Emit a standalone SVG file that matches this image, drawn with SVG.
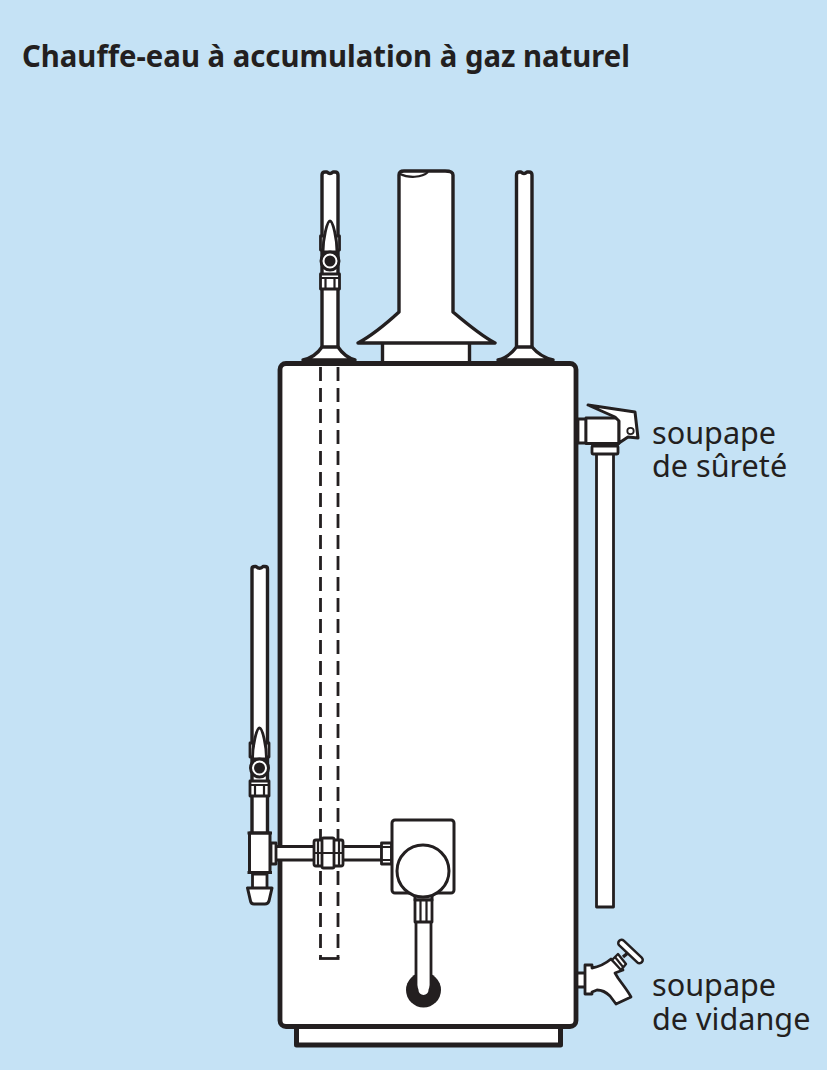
<svg xmlns="http://www.w3.org/2000/svg" width="827" height="1070" viewBox="0 0 827 1070">
<style>
.l{fill:#fff;stroke:#231f20;stroke-width:2.8;stroke-linejoin:round}
.t{fill:#fff;stroke:#231f20;stroke-width:3.400;stroke-linejoin:round}
.n{fill:none;stroke:#231f20;stroke-width:2.2}
.d{fill:none;stroke:#231f20;stroke-width:2.800;stroke-dasharray:14 7}
.k{fill:#231f20}
.lab{font-family:"Noto Sans","Liberation Sans",sans-serif;font-size:30.600px;fill:#231f20}
</style>
<defs>
<g id="bv">
<path class="l" d="M-9.500 -25V-11H-6V-25ZM9.500 -25V-11H6V-25Z"/>
<path class="l" d="M-7 -9C-7 -22 -3 -40 0 -40C3 -40 7 -22 7 -9Z"/>
<circle class="l" cx="0" cy="0" r="9" style="stroke-width:3"/>
<circle class="k" cx="0" cy="0" r="5.500"/>
<rect class="l" x="-9.500" y="13" width="19" height="15"/>
<path class="n" d="M-9.500 17H9.500M-4.500 17V28M4.500 17V28"/>
</g>
</defs>
<rect id="background" width="827" height="1070" fill="#c5e2f5"/>
<text id="title" x="22" y="67" textLength="608" lengthAdjust="spacingAndGlyphs" style="font-family:'Noto Sans','Liberation Sans',sans-serif;font-size:31px;font-weight:700;fill:#231f20">Chauffe-eau à accumulation à gaz naturel</text>

<g id="pipes-top">
<path class="t" d="M322 348V175Q322 172 325 172H327Q330 175 333 172H335Q338 172 338 175V348Z"/>
<path class="t" d="M516.500 348V175Q516.500 172 519.500 172H521Q524 175 527 172H529Q532 172 532 175V348Z"/>
<path class="t" d="M303 360C312 358 318 353 322 347H338C342 353 348 358 355 360Z"/>
<path class="t" d="M498 360C507 358 512 353 516.500 347H532C537 353 545 358 553 360Z"/>
</g>
<g id="flue">
<rect class="t" x="382.500" y="342" width="87" height="21"/>
<path class="t" d="M399 312V175Q399 171 404 171H445Q453 171 453 175V312C466 323 480 335 495 343H358C373 335 387 323 399 312Z"/>
<path class="n" d="M400 174C408 178 422 178 428 172"/>
</g>

<g id="tank">
<rect class="t" x="296.500" y="1024" width="264" height="21" style="stroke-width:5"/>
<rect class="t" x="280" y="363.500" width="296" height="663" rx="6" style="stroke-width:4.800"/>
</g>
<g id="dip-tube">
<path class="d" d="M320.500 367V958M338 367V958"/>
<path class="n" d="M319 958.500H339.500" style="stroke-width:2.800"/>
</g>

<use id="valve-top" href="#bv" x="330" y="261"/>

<g id="safety-valve">
<rect class="l" x="596.500" y="453" width="17" height="454"/>
<rect class="l" x="592" y="446" width="26" height="8" rx="1"/>
<path class="l" d="M578 419H586V443H578Z"/>
<rect class="l" x="586" y="418" width="33" height="25.500"/>
<path class="l" style="stroke-width:3" d="M588 405L635 412L638 438L628 437L619 443V421L615 417Z"/>
<circle class="l" cx="630.500" cy="431" r="3.200" style="stroke-width:1.800"/>
</g>

<g id="gas-line">
<path class="t" d="M252 805V568.500Q252 566.500 255 566.500H256Q260 570 263 566.500H265Q267.500 566.500 267.500 569V835H252Z"/>
<path class="l" style="stroke-width:3" d="M275 846.500H382V860H275Z"/>
<path class="l" d="M271 843H276V864H271Z"/>
<path class="l" style="stroke-width:3" d="M249.500 833H270V872.500H249.500Z"/>
<path class="n" d="M247.500 833H272M247.500 872.500H272" style="stroke-width:3.200"/>
<path class="l" d="M252.500 874H267V889H252.500Z"/>
<path class="l" style="stroke-width:3" d="M247.500 888H272L269 901Q268 904 265 904H254Q251 904 250.500 901Z"/>
<rect class="l" x="314" y="840" width="29" height="26" rx="2"/>
<rect class="l" x="322" y="838" width="12" height="30" rx="1.500"/>
<path class="n" d="M314 853H343M318 840V866M339 840V866"/>
<rect class="l" x="381.500" y="843" width="10" height="21"/>
<path class="n" d="M381.500 847H391.500M381.500 860H391.500"/>
</g>
<use id="valve-gas" href="#bv" x="259.500" y="768"/>

<g id="gas-control">
<rect class="l" style="stroke-width:3" x="392" y="820" width="62" height="73" rx="3"/>
<path class="l" style="stroke-width:3" d="M415 893H432V900H415Z"/>
<circle class="l" style="stroke-width:3" cx="423" cy="871" r="26"/>
<circle class="k" cx="423.500" cy="990" r="17.500"/>
<path class="l" d="M416 920H431V985C431 996 416 996 416 985Z"/>
<path d="M418.500 920H428.500V990A5 5 0 0 1 418.500 990Z" fill="#fff"/>
<rect class="l" x="415" y="900" width="17" height="22"/>
<path class="n" d="M420.500 900V922M426.500 900V922"/>
</g>

<g id="drain-valve">
<rect class="l" x="577" y="973" width="9" height="14"/>
<path class="l" d="M585 965H592V968C598 967 605 964 611 959L623 970L615 973L618 978C623 985 628 991 631 997L616 1004L610 996C606 992 601 990 597 990L592 992V994H585Z"/>
<path class="l" style="stroke-width:2.400" d="M612 960L618 954L626 964L621 970Z"/>
<path class="n" d="M615 957L623 967"/>
<path class="n" d="M623 957L629 952" style="stroke-width:3.400"/>
<path d="M621.500 943L639.500 960" stroke="#231f20" stroke-width="9" stroke-linecap="round"/>
<path d="M621.500 943L639.500 960" stroke="#fff" stroke-width="4" stroke-linecap="round"/>
</g>

<g id="labels">
<text class="lab" x="652" y="444">soupape</text>
<text class="lab" x="652" y="477">de sûreté</text>
<text class="lab" x="652" y="996">soupape</text>
<text class="lab" x="652" y="1030">de vidange</text>
</g>
</svg>
